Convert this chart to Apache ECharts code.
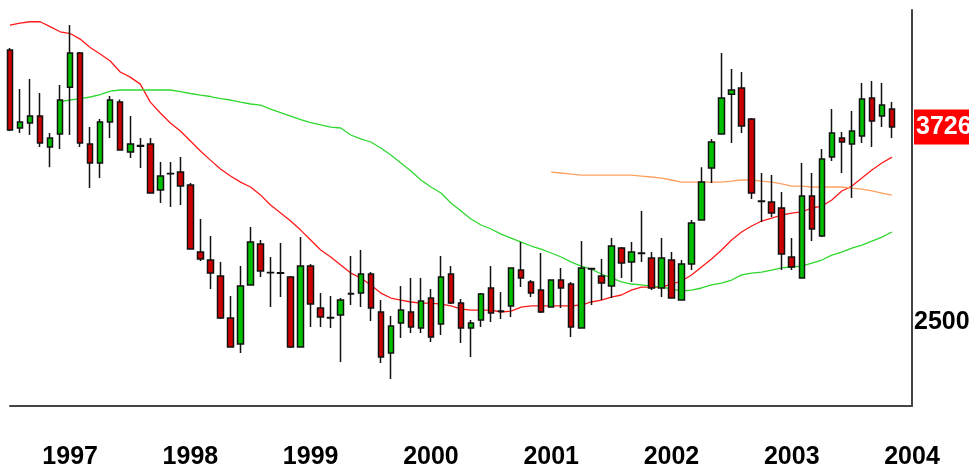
<!DOCTYPE html>
<html>
<head>
<meta charset="utf-8">
<script src="https://cdn.jsdelivr.net/npm/echarts@6/dist/echarts.min.js"></script>
<style>
  html, body { margin: 0; background: #fff; }
  #chart { width: 969px; height: 469px; }
</style>
</head>
<body>
<div id="chart"></div>
<script>
// monthly bars Jul 1996 .. Nov 2003, each [open, close, low, high]
var candles = [
  [4210,3707,3701,4223],[3720,3757,3688,3965],[3751,3795,3676,4028],[3795,3625,3600,3940],
  [3600,3657,3474,3688],[3682,3896,3588,3990],[3977,4191,3676,4367],[4191,3625,3600,4198],
  [3619,3500,3342,3726],[3500,3757,3405,3776],[3757,3896,3657,3921],[3883,3581,3578,3900],
  [3569,3619,3531,3795],[3606,3610,3468,3657],[3619,3311,3308,3657],[3330,3418,3248,3506],
  [3432,3434,3223,3506],[3443,3355,3236,3537],[3361,2959,2956,3374],[2940,2896,2884,3148],
  [2890,2808,2708,3041],[2789,2525,2519,2877],[2525,2343,2340,2663],[2362,2726,2305,2852],
  [2733,3003,2730,3097],[2990,2821,2783,3016],[2812,2810,2594,2909],[2810,2806,2657,2997],
  [2783,2343,2337,2789],[2343,2852,2340,3034],[2852,2613,2469,2865],[2588,2531,2469,2682],
  [2528,2525,2462,2663],[2544,2638,2249,2651],[2676,2679,2607,2915],[2682,2802,2594,2953],
  [2802,2588,2506,2814],[2563,2280,2242,2638],[2305,2475,2142,2538],[2494,2575,2399,2726],
  [2563,2469,2431,2777],[2462,2632,2431,2777],[2651,2406,2374,2708],[2487,2783,2418,2915],
  [2802,2619,2613,2852],[2619,2462,2368,2645],[2462,2494,2280,2513],[2513,2676,2469,2682],
  [2714,2557,2500,2852],[2569,2566,2519,2689],[2601,2840,2531,2843],[2827,2777,2720,3003],
  [2752,2682,2657,2764],[2701,2563,2557,2934],[2594,2764,2591,2767],[2764,2714,2588,2840],
  [2739,2469,2406,2752],[2462,2840,2459,3009],[2833,2836,2607,2840],[2789,2745,2638,2896],
  [2726,2978,2651,3028],[2965,2871,2777,2972],[2877,2940,2752,3003],[2934,2931,2877,3198],
  [2902,2714,2701,2940],[2714,2902,2657,3028],[2890,2651,2648,2940],[2638,2865,2635,2890],
  [2865,3122,2827,3141],[3141,3380,3138,3474],[3468,3632,3374,3651],[3682,3908,3679,4191],
  [3933,3959,3625,4091],[3971,3732,3688,4072],[3776,3311,3273,3783],[3261,3258,3129,3437],
  [3254,3185,3160,3424],[3217,2928,2827,3317],[2909,2846,2827,3028],[2777,3292,2774,3500],
  [3292,3085,3009,3437],[3041,3525,3034,3588],[3537,3688,3512,3839],[3657,3632,3437,3695],
  [3619,3701,3280,3827],[3669,3902,3625,4003],[3908,3764,3600,4015],[3795,3864,3726,4003],
  [3839,3726,3657,3883]
];

// red average (starts with the first bar)
var maRed = [
  4367,4380,4388,4388,4357,4325,4314,4279,4226,4185,
  4141,4072,4040,3996,3883,3814,3751,3701,3638,3575,
  3518,3462,3418,3380,3349,3298,3236,3185,3135,3078,
  3016,2953,2909,2858,2808,2777,2733,2682,2651,2638,
  2626,2619,2619,2613,2601,2582,2575,2575,2575,2563,
  2569,2594,2601,2601,2601,2601,2601,2607,2626,2638,
  2657,2670,2701,2720,2720,2720,2739,2758,2796,2846,
  2896,2953,3016,3066,3104,3135,3154,3173,3185,3192,
  3217,3229,3267,3324,3355,3405,3456,3500,3537
];

// green average, starts at bar 5
var maGreen = [
  3886,3896,3905,3915,3930,
  3952,3959,3959,3959,3959,3959,3959,3949,3937,3927,
  3918,3905,3896,3883,3871,3864,3839,3817,3795,3773,
  3754,3739,3726,3720,3676,3651,3632,3594,3550,3500,
  3449,3393,3349,3311,3248,3198,3148,3110,3085,3053,
  3028,3003,2978,2959,2934,2909,2877,2852,2833,2802,
  2777,2752,2739,2733,2726,2720,2708,2695,2701,2714,
  2733,2745,2764,2796,2808,2814,2827,2840,2846,2852,
  2871,2890,2921,2940,2965,2984,3009,3034,3066
];

// orange average, starts at bar 54
var maOrange = [
  3443,3437,3430,3424,3424,3424,
  3424,3424,3424,3418,3412,3405,3393,3380,3380,3380,
  3380,3380,3386,3393,3393,3386,3380,3368,3355,3355,
  3349,3349,3349,3349,3342,3336,3324,3311,3298
];

var yTicks = [2500];
var startYear = 1996, startMonth = 7, monthCount = 91;

var months = [];
for (var k = 0; k < monthCount; k++) {
  var m = startMonth - 1 + k;
  var y = startYear + Math.floor(m / 12);
  var mm = (m % 12) + 1;
  months.push(y + '-' + (mm < 10 ? '0' + mm : mm));
}

function pad(arr, len) {
  var out = [];
  for (var i = 0; i < len - arr.length; i++) out.push(null);
  return out.concat(arr);
}

var lastClose = candles[candles.length - 1][1];
var font = "'Liberation Sans', Arial, sans-serif";

var myChart = echarts.init(document.getElementById('chart'));
var option = {
  animation: false,
  backgroundColor: '#fff',
  grid: { left: 10, right: 57, top: 10, bottom: 63, outerBoundsMode: 'none', containLabel: false },
  xAxis: {
    type: 'category',
    data: months,
    boundaryGap: false,
    axisLine: { show: true, lineStyle: { color: '#444', width: 2 } },
    axisTick: { show: false },
    splitLine: { show: false },
    axisLabel: {
      interval: function (idx, val) { return val.slice(5) === '01'; },
      formatter: function (val) { return val.slice(0, 4); },
      margin: 39,
      color: '#000',
      fontSize: 25,
      fontWeight: 'bold',
      fontFamily: font
    }
  },
  yAxis: {
    type: 'value',
    position: 'right',
    min: 1972,
    max: 4462,
    splitLine: { show: false },
    axisTick: { show: false },
    axisLine: { show: true, lineStyle: { color: '#444', width: 2 } },
    axisLabel: {
      customValues: yTicks,
      formatter: function (v) { return String(v); },
      margin: 2,
      color: '#000',
      fontSize: 25,
      fontWeight: 'bold',
      fontFamily: font
    }
  },
  series: [
    {
      name: 'ma1',
      type: 'line',
      data: maRed,
      symbol: 'none',
      lineStyle: { color: '#ff1a1a', width: 1.3 },
      z: 1
    },
    {
      name: 'ma2',
      type: 'line',
      data: pad(maGreen, candles.length),
      symbol: 'none',
      lineStyle: { color: '#2fd82f', width: 1.3 },
      z: 1
    },
    {
      name: 'ma3',
      type: 'line',
      data: pad(maOrange, candles.length),
      symbol: 'none',
      lineStyle: { color: '#ffa060', width: 1.3 },
      z: 1
    },
    {
      name: 'price',
      type: 'candlestick',
      data: candles,
      barWidth: 6,
      z: 2,
      itemStyle: {
        color: '#00c000',
        color0: '#cc0000',
        borderColor: '#111',
        borderColor0: '#111',
        borderColorDoji: '#111',
        borderWidth: 1.5
      },
      markLine: {
        silent: true,
        symbol: 'none',
        lineStyle: { color: 'rgba(0,0,0,0)', width: 0 },
        label: {
          show: true,
          position: 'end',
          distance: 2,
          formatter: function (p) { return String(p.value); },
          backgroundColor: '#ff0000',
          color: '#fff',
          fontSize: 25,
          fontWeight: 'bold',
          fontFamily: font,
          padding: [6, 6, 4, 2]
        },
        data: [{ yAxis: lastClose }]
      }
    }
  ]
};
myChart.setOption(option, true);
window.addEventListener('resize', function () {
  myChart.resize();
});
</script>
</body>
</html>
